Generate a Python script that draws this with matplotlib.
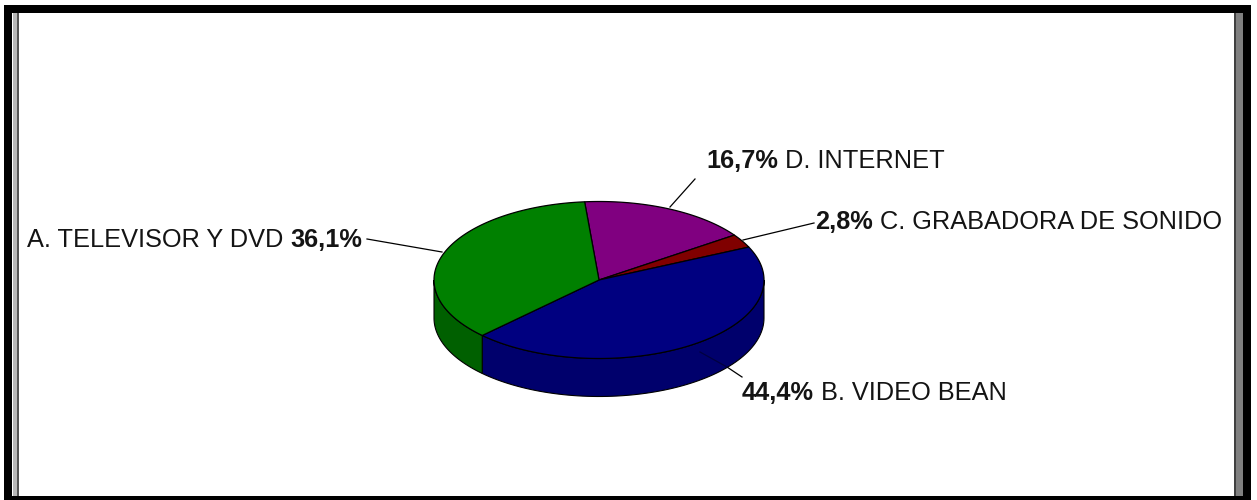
import matplotlib
matplotlib.use("Agg")
import matplotlib.pyplot as plt
import numpy as np
from matplotlib.patches import Polygon, Rectangle

plt.rcParams["font.family"] = ["Liberation Sans", "DejaVu Sans"]

# clockwise from the top of the pie
CATEGORIES = ["D. INTERNET", "C. GRABADORA DE SONIDO", "B. VIDEO BEAN", "A. TELEVISOR Y DVD"]
VALUES = [16.7, 2.8, 44.4, 36.1]
TOP_COLORS = ["#800080", "#800000", "#000080", "#008000"]
SIDE_COLORS = ["#5c005c", "#5c0000", "#00006c", "#006000"]

CX, CY = 599, 280
RX, RY = 165, 78.5
DEPTH = 38
START_ANGLE = 95.0
FONT_SIZE = 18.25


def ellipse_point(t_deg, dy=0.0):
    t = np.radians(t_deg)
    return np.column_stack([CX + RX * np.cos(t), CY - RY * np.sin(t) + dy])


def draw_slices(ax):
    angles = START_ANGLE - np.cumsum([0] + VALUES) * 3.6

    # side wall, only the front half of the rim shows
    for i in range(len(VALUES)):
        hi, lo = angles[i], angles[i + 1]
        # bring the slice range into the front half (180..360 degrees)
        for shift in (0, 360):
            a = max(lo + shift, 180)
            b = min(hi + shift, 360)
            if b <= a:
                continue
            t = np.linspace(a, b, 80)
            pts = np.vstack([ellipse_point(t), ellipse_point(t[::-1], DEPTH)])
            ax.add_patch(Polygon(pts, facecolor=SIDE_COLORS[i], edgecolor="black",
                                 linewidth=0.8, zorder=2))

    for i in range(len(VALUES)):
        t = np.linspace(angles[i], angles[i + 1], 120)
        pts = np.vstack([[CX, CY], ellipse_point(t)])
        ax.add_patch(Polygon(pts, facecolor=TOP_COLORS[i], edgecolor="black",
                             linewidth=0.9, zorder=3))


def pct_text(value):
    return f"{value:.1f}%".replace(".", ",")


def draw_label(ax, fig, x, y, parts):
    renderer = fig.canvas.get_renderer()
    for text, weight in parts:
        t = ax.text(x, y, text, fontsize=FONT_SIZE, fontweight=weight, color="#141414",
                    ha="left", va="baseline", zorder=5)
        x += t.get_window_extent(renderer).width


def draw_frame(ax):
    ax.add_patch(Rectangle((4, 5), 8, 495, color="black", lw=0))
    ax.add_patch(Rectangle((4, 5), 1247, 8, color="black", lw=0))
    ax.add_patch(Rectangle((1243, 5), 8, 495, color="black", lw=0))
    ax.add_patch(Rectangle((4, 496), 1247, 4, color="black", lw=0))
    ax.add_patch(Rectangle((13, 13), 4, 483, color="#b8b8b8", lw=0))
    ax.add_patch(Rectangle((17, 13), 2, 483, color="#555555", lw=0))
    ax.add_patch(Rectangle((1236, 13), 7, 483, color="#808080", lw=0))
    ax.add_patch(Rectangle((1234, 13), 2, 483, color="#404040", lw=0))


fig = plt.figure(figsize=(12.57, 5), dpi=100)
ax = fig.add_axes([0, 0, 1, 1])
ax.set_xlim(0, 1257)
ax.set_ylim(500, 0)
ax.axis("off")

draw_frame(ax)
draw_slices(ax)

# leader lines
for xs, ys, color, z in [([367, 442], [239, 252], "black", 1),
                         ([695, 670], [179, 207], "black", 1),
                         ([814, 743], [223, 240], "black", 4),
                         ([727, 742], [367, 377], "black", 1),
                         ([700, 727], [352, 367], "#000040", 4)]:
    ax.plot(xs, ys, color=color, linewidth=0.9, zorder=z)

fig.canvas.draw()
draw_label(ax, fig, 706, 168, [(pct_text(VALUES[0]), "bold"), (" " + CATEGORIES[0], "normal")])
draw_label(ax, fig, 815, 229, [(pct_text(VALUES[1]), "bold"), (" " + CATEGORIES[1], "normal")])
draw_label(ax, fig, 742, 400, [(pct_text(VALUES[2]), "bold"), (" " + CATEGORIES[2], "normal")])
draw_label(ax, fig, 27, 247, [(CATEGORIES[3] + " ", "normal"), (pct_text(VALUES[3]), "bold")])

fig.savefig("out.png", dpi=100, facecolor="white")
